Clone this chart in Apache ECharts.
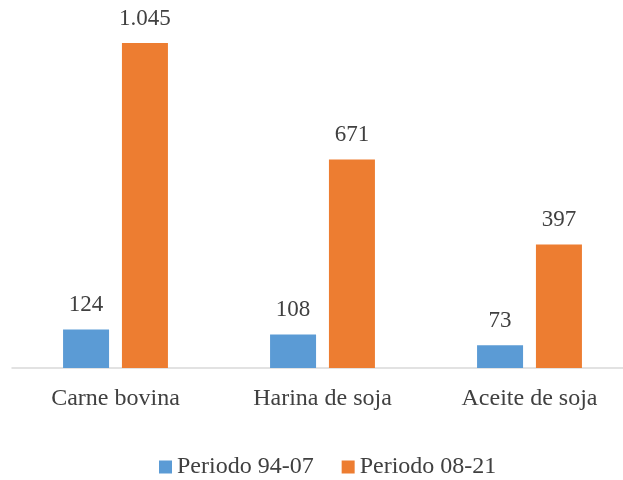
<!DOCTYPE html>
<html>
<head>
<meta charset="utf-8">
<script src="https://cdn.jsdelivr.net/npm/echarts@6/dist/echarts.min.js"></script>
<style>
  html, body { margin: 0; padding: 0; background: #fff; }
  #chart { width: 623px; height: 480px; }
</style>
</head>
<body>
<div id="chart"></div>
<script>
  // categorias del eje x
  const categories = ['Carne bovina', 'Harina de soja', 'Aceite de soja']
  // nombres de las series
  const seriesNames = ['Periodo 94-07', 'Periodo 08-21']
  // valores de cada periodo
  const periodo9407 = [124, 108, 73]
  const periodo0821 = [1045, 671, 397]

  const font = '"Liberation Serif", "Times New Roman", serif'
  const textColor = '#404040'

  // 1.045 con punto de miles
  function fmt(v) {
    return String(v).replace(/\B(?=(\d{3})+(?!\d))/g, '.')
  }

  const chart = echarts.init(document.getElementById('chart'), null, { renderer: 'canvas' })
  const labelOpt = {
    show: true,
    position: 'top',
    distance: 13,
    color: textColor,
    fontFamily: font,
    fontSize: 23,
    formatter: p => fmt(p.value)
  }
  chart.setOption({
    animation: false,
    textStyle: { fontFamily: font },
    // el eje sigue un poco mas alla del borde derecho
    grid: { left: 12, top: 26, width: 621, bottom: 112, containLabel: false, outerBoundsMode: 'none' },
    legend: {
      top: 450,
      left: 154,
      itemWidth: 13,
      itemHeight: 13,
      itemGap: 28,
      icon: 'rect',
      textStyle: { color: textColor, fontFamily: font, fontSize: 24 },
      data: seriesNames
    },
    xAxis: {
      type: 'category',
      data: categories,
      axisLine: { lineStyle: { color: '#d9d9d9', width: 1.5 } },
      axisTick: { show: false },
      axisLabel: { color: textColor, fontFamily: font, fontSize: 24, margin: 19 }
    },
    yAxis: {
      type: 'value',
      min: 0,
      max: 1100,
      show: false,
      splitLine: { show: false }
    },
    series: [
      {
        name: seriesNames[0],
        type: 'bar',
        data: periodo9407,
        barWidth: 46,
        barGap: '28%',
        itemStyle: { color: '#5b9bd5' },
        label: labelOpt
      },
      {
        name: seriesNames[1],
        type: 'bar',
        data: periodo0821,
        barWidth: 46,
        barGap: '28%',
        itemStyle: { color: '#ed7d31' },
        label: labelOpt
      }
    ]
  })
</script>
</body>
</html>
